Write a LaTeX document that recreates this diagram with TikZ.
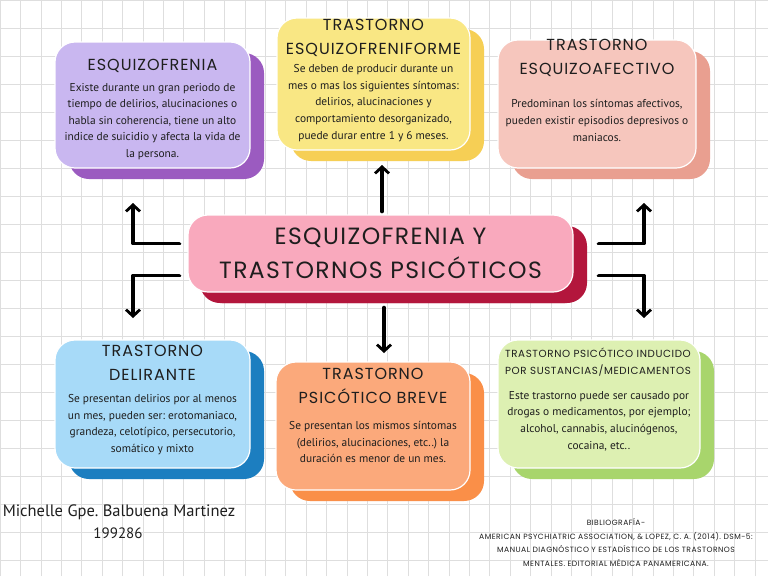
\documentclass[tikz,border=0pt]{standalone}
\usepackage{fontspec}
\setmainfont{PT Sans}
\newfontfamily\capsfont[LetterSpace=6]{Poppins}
\usetikzlibrary{shadows,arrows.meta}
\frenchspacing
\definecolor{lavF}{HTML}{C9B7F0}
\definecolor{lavB}{HTML}{9B5BC0}
\definecolor{yelF}{HTML}{F9E784}
\definecolor{yelB}{HTML}{F6CF55}
\definecolor{salF}{HTML}{F6C6BD}
\definecolor{salB}{HTML}{E99F90}
\definecolor{pnkF}{HTML}{F9A9BD}
\definecolor{pnkB}{HTML}{B3163C}
\definecolor{bluF}{HTML}{A7DAF8}
\definecolor{bluB}{HTML}{1C7EC0}
\definecolor{orgF}{HTML}{FBA97B}
\definecolor{orgB}{HTML}{FA8F48}
\definecolor{grnF}{HTML}{DDF0B2}
\definecolor{grnB}{HTML}{A8D56C}
\definecolor{ink}{HTML}{1E1E1E}

\begin{document}
\begin{tikzpicture}[x=1pt, y=-1pt,
  card/.style 2 args={draw=white, line width=1.2pt, rounded corners=20pt, fill=#1,
    copy shadow={shadow xshift=14pt, shadow yshift=-11pt, fill=#2, draw=none}},
  ttl/.style={font=\capsfont\fontsize{16}{24}\selectfont, align=center, text=ink},
  txt/.style={font=\fontsize{11.4}{16.6}\selectfont, align=center, text=ink},
  conn/.style={line width=3.8pt, line cap=round, line join=round,
    -{Straight Barb[length=6.5pt, width=14pt, line width=2.8pt]}}]
\useasboundingbox (0,0) rectangle (768,576);
\fill[white] (0,0) rectangle (768,576);
\draw[black!13, line width=0.5pt, xstep=20.4pt, ystep=28pt] (0,0) grid (768,576);

% cards
\node[card={lavF}{lavB}, minimum width=195pt, minimum height=126pt] (esq) at (152.5,105) {};
\node[card={yelF}{yelB}, minimum width=193pt, minimum height=132pt] (form) at (373.5,84) {};
\node[card={salF}{salB}, minimum width=198pt, minimum height=128pt] (afec) at (597,104) {};
\node[card={bluF}{bluB}, minimum width=195pt, minimum height=128pt] (delir) at (152.5,404) {};
\node[card={orgF}{orgB}, minimum width=194pt, minimum height=128pt] (breve) at (373,426) {};
\node[card={grnF}{grnB}, minimum width=202pt, minimum height=128pt] (induc) at (599,404) {};
\node[card={pnkF}{pnkB}, copy shadow={shadow xshift=12pt, shadow yshift=-11pt, fill=pnkB, draw=none},
  minimum width=385pt, minimum height=77pt] (main) at (380.5,253.5) {};

% texts
\node[ttl, font=\capsfont\fontsize{23.5}{34}\selectfont] (main-t) at (main) {ESQUIZOFRENIA Y\\TRASTORNOS PSICÓTICOS};
\node[ttl] (esq-t) at (152.5,66) {ESQUIZOFRENIA};
\node[txt] (esq-b) at (152.5,121.5) {Existe durante un gran periodo de\\tiempo de delirios, alucinaciones o\\habla sin coherencia, tiene un alto\\indice de suicidio y afecta la vida de\\la persona.};
\node[ttl] (form-t) at (373.5,38) {TRASTORNO\\ESQUIZOFRENIFORME};
\node[txt] (form-b) at (373.5,103) {Se deben de producir durante un\\mes o mas los siguientes síntomas:\\delirios, alucinaciones y\\comportamiento desorganizado,\\puede durar entre 1 y 6 meses.};
\node[ttl] (afec-t) at (597,57.5) {TRASTORNO\\ESQUIZOAFECTIVO};
\node[txt] (afec-b) at (597,120.5) {Predominan los síntomas afectivos,\\pueden existir episodios depresivos o\\maniacos.};
\node[ttl] (delir-t) at (152.5,362.5) {TRASTORNO\\DELIRANTE};
\node[txt] (delir-b) at (152.5,424.5) {Se presentan delirios por al menos\\un mes, pueden ser: erotomaniaco,\\grandeza, celotípico, persecutorio,\\somático y mixto};
\node[ttl] (breve-t) at (373,386) {TRASTORNO\\PSICÓTICO BREVE};
\node[txt] (breve-b) at (373,442) {Se presentan los mismos síntomas\\(delirios, alucinaciones, etc..) la\\duración es menor de un mes.};
\node[ttl, font=\capsfont\fontsize{10.3}{17}\selectfont] (induc-t) at (598,362.5) {TRASTORNO PSICÓTICO INDUCIDO\\POR SUSTANCIAS/MEDICAMENTOS};
\node[txt] (induc-b) at (599,421) {Este trastorno puede ser causado por\\drogas o medicamentos, por ejemplo;\\alcohol, cannabis, alucinógenos,\\cocaina, etc..};

% footer
\node[font=\fontsize{16.5}{16}\selectfont, text=ink] (autor) at (119,512) {Michelle Gpe. Balbuena Martinez};
\node[font=\fontsize{15}{16}\selectfont, text=ink] (mat) at (118,533) {199286};
\node[font=\capsfont\fontsize{7.6}{13.6}\selectfont, align=center, text=ink] (bib) at (616,542.5)
  {BIBLIOGRAFÍA-\\AMERICAN PSYCHIATRIC ASSOCIATION, \& LOPEZ, C. A. (2014). DSM-5:\\MANUAL DIAGNÓSTICO Y ESTADÍSTICO DE LOS TRASTORNOS\\MENTALES. EDITORIAL MÉDICA PANAMERICANA.};

% connectors
\coordinate (up) at (382,165);
\coordinate (down) at (384,353);
\coordinate (lt) at (133,203);
\coordinate (lb) at (133,318);
\coordinate (rt) at (644,203);
\coordinate (rb) at (644,318);
\draw[conn] ([xshift=1.5pt, yshift=3pt]main.north) -- (up);
\draw[conn] ([xshift=3.5pt, yshift=-15pt]main.south) -- (down);
\draw[conn] ([shift={(-8pt,10pt)}]main.west) -| (lt);
\draw[conn] ([shift={(-8pt,-22pt)}]main.west) -| (lb);
\draw[conn] ([shift={(25pt,10pt)}]main.east) -| (rt);
\draw[conn] ([shift={(25pt,-22pt)}]main.east) -| (rb);
\end{tikzpicture}
\end{document}
